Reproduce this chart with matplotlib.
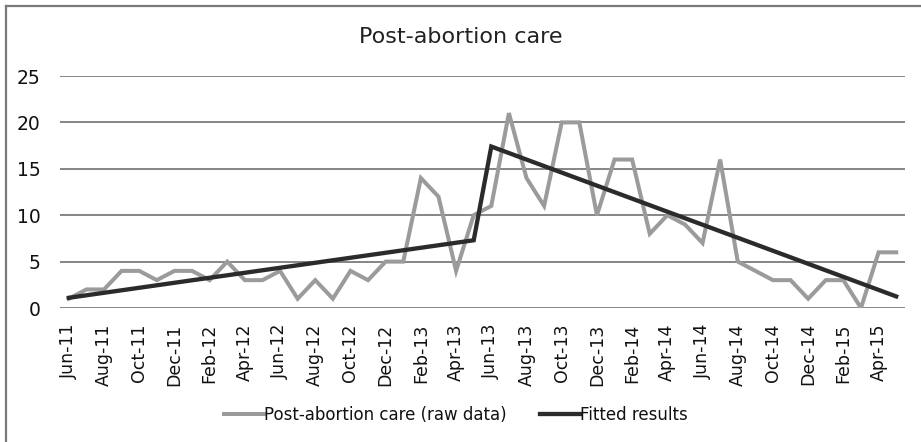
import matplotlib
matplotlib.use("Agg")
import matplotlib.pyplot as plt
from matplotlib.lines import Line2D

# monthly counts, Jun-11 .. May-15
months = ["Jun-11", "Jul-11", "Aug-11", "Sep-11", "Oct-11", "Nov-11", "Dec-11",
          "Jan-12", "Feb-12", "Mar-12", "Apr-12", "May-12", "Jun-12", "Jul-12",
          "Aug-12", "Sep-12", "Oct-12", "Nov-12", "Dec-12", "Jan-13", "Feb-13",
          "Mar-13", "Apr-13", "May-13", "Jun-13", "Jul-13", "Aug-13", "Sep-13",
          "Oct-13", "Nov-13", "Dec-13", "Jan-14", "Feb-14", "Mar-14", "Apr-14",
          "May-14", "Jun-14", "Jul-14", "Aug-14", "Sep-14", "Oct-14", "Nov-14",
          "Dec-14", "Jan-15", "Feb-15", "Mar-15", "Apr-15", "May-15"]
raw = [1, 2, 2, 4, 4, 3, 4, 4, 3, 5, 3, 3, 4, 1, 3, 1, 4, 3, 5, 5, 14, 12,
       4, 10, 11, 21, 14, 11, 20, 20, 10, 16, 16, 8, 10, 9, 7, 16, 5, 4, 3,
       3, 1, 3, 3, 0, 6, 6]

# segmented fit: knots (month index, fitted value)
fit_idx = [0, 23, 24, 47]
fit_val = [1.1, 7.3, 17.4, 1.25]

W, H = 921, 442
fig = plt.figure(figsize=(W / 100, H / 100), dpi=100)
ax = fig.add_axes([60 / W, 1 - 308 / H, 845 / W, 232 / H])

x = list(range(len(raw)))
ax.plot(x, raw, color="#9b9b9b", lw=2.9, solid_joinstyle="miter", zorder=3)
ax.plot(fit_idx, fit_val, color="#2b2b2b", lw=3.1, solid_joinstyle="miter", zorder=4)

ax.set_xlim(-0.5, len(raw) - 0.5)
ax.set_ylim(0, 25)
ax.set_yticks([0, 5, 10, 15, 20, 25])
ax.set_xticks(x[::2])
ax.set_xticklabels(months[::2], rotation=90, fontsize=12.5, color="#111111")
ax.tick_params(axis="x", length=0, pad=11)
ax.tick_params(axis="y", length=0, pad=14, labelsize=13.5, labelcolor="#111111")
ax.grid(axis="y", color="#858585", lw=1.4)
ax.set_axisbelow(True)
for s in ax.spines.values():
    s.set_visible(False)

fig.text(0.5, 1 - 37 / H, "Post-abortion care", ha="center", va="center",
         fontsize=16, color="#222222")

handles = [Line2D([], [], color="#9b9b9b", lw=2.9),
           Line2D([], [], color="#2b2b2b", lw=3.1)]
fig.legend(handles, ["Post-abortion care (raw data)", "Fitted results"],
           loc="center", bbox_to_anchor=(456 / W, 1 - 415 / H), ncol=2,
           frameon=False, fontsize=12, handlelength=2.4, handletextpad=0.0,
           columnspacing=2.0, labelcolor="#111111")

# outer chart border (left and top visible)
fig.add_artist(Line2D([6 / W, 6 / W], [0, 1 - 6 / H], color="#7a7a7a", lw=1.6,
                      transform=fig.transFigure))
fig.add_artist(Line2D([6 / W, 1], [1 - 6 / H, 1 - 6 / H], color="#7a7a7a", lw=1.6,
                      transform=fig.transFigure))

fig.savefig("out.png", dpi=100)
